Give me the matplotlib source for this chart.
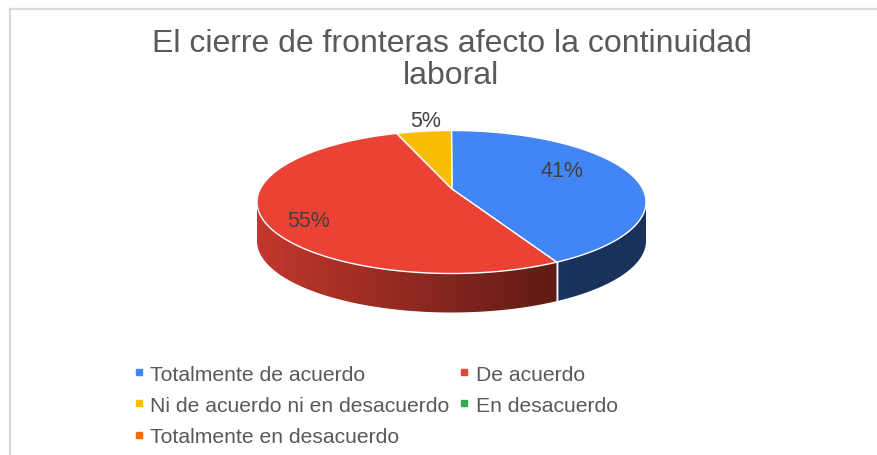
import numpy as np
import matplotlib
matplotlib.use("Agg")
import matplotlib.pyplot as plt
from matplotlib.patches import Polygon
from matplotlib.lines import Line2D

categories = ["Totalmente de acuerdo",
              "De acuerdo",
              "Ni de acuerdo ni en desacuerdo",
              "En desacuerdo",
              "Totalmente en desacuerdo"]
counts = [9, 12, 1, 0, 0]
colors = ["#4285F4", "#EA4335", "#FBBC04", "#34A853", "#FF6D01"]
title = "El cierre de fronteras afecto la continuidad\nlaboral"

# look of the 3D pie (pixel units)
W, H = 878, 456
cx, cy = 451.5, 203          # ellipse centre in the picture
a, b = 194.5, 71.5           # half axes of the top face
depth = 39                   # thickness of the pie
apex = (0.5, 13)             # where the slices meet on top
label_fx = [0.59, 0.81, 0.94, 1.0, 1.0]
label_dy = 11

plt.rcParams["font.family"] = ["Liberation Sans", "DejaVu Sans"]

fig = plt.figure(figsize=(W / 100, H / 100), dpi=100)
ax = fig.add_axes([0, 0, 1, 1])
ax.axis("off")

# frame lines top and left
fig.add_artist(Line2D([10 / W, 1], [1 - 10 / H, 1 - 10 / H], transform=fig.transFigure,
                      color="#d9d9d9", lw=1.6))
fig.add_artist(Line2D([10 / W, 10 / W], [0, 1 - 10 / H], transform=fig.transFigure,
                      color="#d9d9d9", lw=1.6))

total = sum(counts)
angles = [c / total * 360 for c in counts]


def rim(t):
    t = np.radians(t)
    return a * np.cos(t), b * np.sin(t)


def shade(hexcol, x):
    f = np.clip(0.83 - 0.45 * (x + a) / 320, 0.38, None)
    rgb = np.array(matplotlib.colors.to_rgb(hexcol))
    return rgb[None, :] * f[:, None]


start = 90.0
slices = []
for val, ang, col in zip(counts, angles, colors):
    end = start - ang
    slices.append((start, end, col, val))
    start = end

# side walls (front half only), shaded left to right
gx = np.linspace(-a, a, 400)
for s, e, col, val in slices:
    if val == 0:
        continue
    t = np.linspace(e, s, 300)
    tt = np.mod(t, 360)
    t = t[(tt >= 180) & (tt <= 360)]
    if len(t) < 2:
        continue
    xs, ys = rim(t)
    pts = list(zip(xs, ys)) + list(zip(xs[::-1], ys[::-1] - depth))
    side = Polygon(pts, closed=True, facecolor="none", edgecolor="none")
    ax.add_patch(side)
    img = shade(col, gx)[None, :, :]
    im = ax.imshow(img, extent=[-a, a, -b - depth - 2, 2], aspect="auto",
                   interpolation="bilinear", zorder=1)
    im.set_clip_path(side)
    for edge in (s, e):
        ee = np.mod(edge, 360)
        if 180 < ee < 360:
            x0, y0 = rim(edge)
            ax.plot([x0, x0], [y0, y0 - depth], color="white", lw=1, zorder=2)

# top faces
for s, e, col, val in slices:
    if val == 0:
        continue
    t = np.linspace(s, e, 200)
    xs, ys = rim(t)
    pts = [apex] + list(zip(xs, ys))
    ax.add_patch(Polygon(pts, closed=True, facecolor=col, edgecolor="white", lw=1, zorder=3))

# percentage labels
for (s, e, col, val), fx in zip(slices, label_fx):
    if val == 0:
        continue
    mid = (s + e) / 2
    rx, ry = rim(mid)
    ax.text(fx * rx, ry + label_dy, f"{round(100 * val / total)}%", ha="center",
            va="center", fontsize=15.5, color="#404040", zorder=5)

ax.text(0, cy - 60, title, ha="center", va="center", fontsize=23,
        color="#595959", linespacing=1.08)

ax.set_xlim(-cx, W - cx)
ax.set_ylim(-(H - cy), cy)

handles = [Line2D([], [], marker="s", ls="none", color=c, markersize=3.8) for c in colors]
order = [0, 2, 4, 1, 3]
fig.legend([handles[i] for i in order], [categories[i] for i in order],
           ncol=2, loc="upper left", bbox_to_anchor=(123 / W, 1 - 355 / H),
           frameon=False, fontsize=15.2, labelcolor="#595959",
           handlelength=0.5, handletextpad=0.3, labelspacing=0.58,
           columnspacing=0.45, borderpad=0)

fig.savefig("out.png", dpi=100)
